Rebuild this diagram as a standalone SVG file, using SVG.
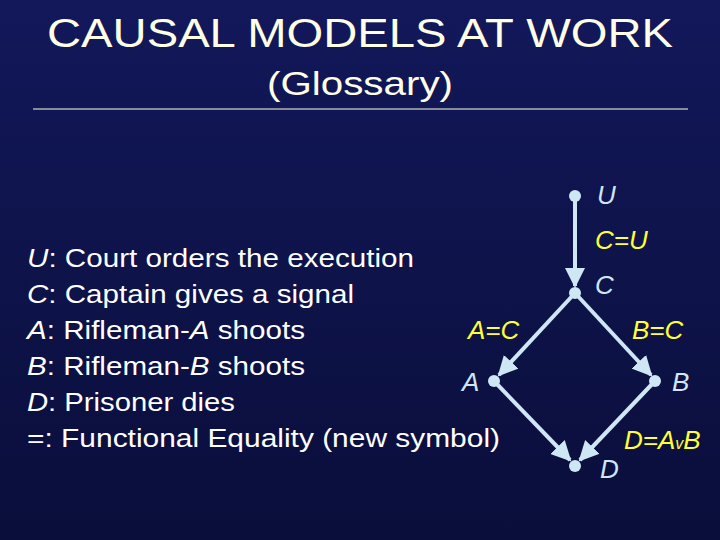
<svg xmlns="http://www.w3.org/2000/svg" width="720" height="540" viewBox="0 0 720 540">
<defs>
<linearGradient id="bg" x1="0" y1="0" x2="0" y2="1"><stop offset="0" stop-color="#12185a"/><stop offset="1" stop-color="#0a0e3a"/></linearGradient>
<marker id="ar" viewBox="0 0 10 10" refX="9" refY="5" markerWidth="5" markerHeight="5" orient="auto" markerUnits="strokeWidth"><path d="M0,0L10,5L0,10z" fill="#cfe6f5"/></marker>
<style>
.t{font-family:"Liberation Sans",Arial,sans-serif;fill:#ffffe6}
.g{font-family:"Liberation Sans",Arial,sans-serif;font-size:26px;fill:#ffffff}
.n{font-family:"Liberation Sans",Arial,sans-serif;font-size:26px;fill:#cfe6f5;font-style:italic}
.y{font-family:"Liberation Sans",Arial,sans-serif;font-size:26px;fill:#ffff33;font-style:italic}
.e{stroke:#cfe6f5;stroke-width:4;fill:none;marker-end:url(#ar)}
.d{fill:#cfe6f5}
</style>
</defs>
<rect width="720" height="540" fill="url(#bg)"/>
<text class="t" x="360" y="47" font-size="40" text-anchor="middle" textLength="626" lengthAdjust="spacingAndGlyphs">CAUSAL  MODELS  AT  WORK</text>
<text class="t" x="360" y="95" font-size="34" text-anchor="middle" textLength="186" lengthAdjust="spacingAndGlyphs">(Glossary)</text>
<line x1="33" y1="109" x2="688" y2="109" stroke="#ffffe6" stroke-width="1"/>
<g class="g">
<text x="27" y="267" textLength="387" lengthAdjust="spacingAndGlyphs"><tspan font-style="italic">U</tspan>: Court orders the execution</text>
<text x="27" y="303" textLength="327" lengthAdjust="spacingAndGlyphs"><tspan font-style="italic">C</tspan>: Captain gives a signal</text>
<text x="27" y="339" textLength="278" lengthAdjust="spacingAndGlyphs"><tspan font-style="italic">A</tspan>: Rifleman-<tspan font-style="italic">A</tspan> shoots</text>
<text x="27" y="375" textLength="278" lengthAdjust="spacingAndGlyphs"><tspan font-style="italic">B</tspan>: Rifleman-<tspan font-style="italic">B</tspan> shoots</text>
<text x="27" y="411" textLength="208" lengthAdjust="spacingAndGlyphs"><tspan font-style="italic">D</tspan>: Prisoner dies</text>
<text x="27" y="447" textLength="473" lengthAdjust="spacingAndGlyphs">=: Functional Equality (new symbol)</text>
</g>
<g id="edges">
<line class="e" x1="575" y1="196" x2="575" y2="286"/>
<line class="e" x1="575" y1="293" x2="499" y2="375"/>
<line class="e" x1="575" y1="293" x2="651" y2="375"/>
<line class="e" x1="494" y1="381" x2="570" y2="460"/>
<line class="e" x1="655" y1="381" x2="580" y2="460"/>
</g>
<g id="U"><circle class="d" cx="575" cy="196" r="6"/><text class="n" x="597" y="204">U</text></g>
<g id="C"><circle class="d" cx="575" cy="293" r="6"/><text class="n" x="595" y="294">C</text></g>
<g id="A"><circle class="d" cx="494" cy="381" r="6"/><text class="n" x="462" y="391">A</text></g>
<g id="B"><circle class="d" cx="655" cy="381" r="6"/><text class="n" x="672" y="391">B</text></g>
<g id="D"><circle class="d" cx="575" cy="466" r="6"/><text class="n" x="600" y="478">D</text></g>
<g id="labels">
<text class="y" x="595" y="249">C=U</text>
<text class="y" x="468" y="339">A=C</text>
<text class="y" x="632" y="339">B=C</text>
<text class="y" x="624" y="449">D=A<tspan font-size="16">v</tspan>B</text>
</g>
</svg>
